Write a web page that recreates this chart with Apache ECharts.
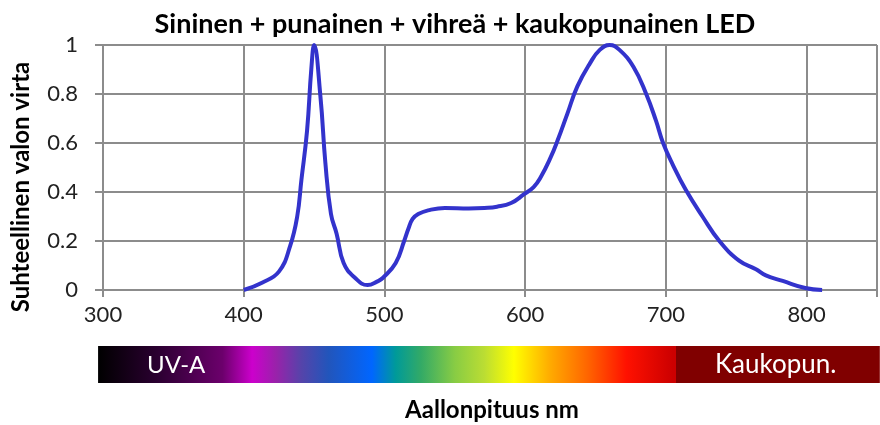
<!DOCTYPE html>
<html>
<head>
<meta charset="utf-8">
<script src="https://cdn.jsdelivr.net/npm/echarts@6/dist/echarts.min.js"></script>
<style>
  html, body { margin: 0; padding: 0; background: #ffffff; }
  #chart { width: 880px; height: 425px; }
</style>
</head>
<body>
<div id="chart"></div>
<script>
// Relative luminous flux of a blue + red + green + far-red LED, per wavelength (nm)
const wavelengths = [400, 413, 425, 433, 438, 441, 445, 448, 450, 454.5, 458, 462, 466, 471, 479, 488,
  495, 499, 508, 514, 517, 520, 524, 531, 543, 560, 571, 580, 590, 599, 606, 611, 618, 623, 630,
  637, 646, 653, 660, 667, 677, 686, 693, 698, 705, 714, 726, 738, 752, 764, 771, 783, 799, 811];
const flux = [0, 0.03, 0.075, 0.18, 0.30, 0.45, 0.65, 0.90, 1.0, 0.79, 0.52, 0.31, 0.23, 0.11, 0.05, 0.02,
  0.035, 0.05, 0.11, 0.20, 0.25, 0.29, 0.31, 0.325, 0.335, 0.333, 0.335, 0.34, 0.355, 0.39, 0.42, 0.46,
  0.54, 0.61, 0.72, 0.83, 0.925, 0.98, 1.0, 0.98, 0.91, 0.80, 0.69, 0.60, 0.51, 0.41, 0.30, 0.20, 0.12,
  0.085, 0.06, 0.037, 0.008, 0];

// Colour band under the axis: wavelength -> colour
const bandStops = [296.5, 338, 385, 406, 423, 441, 460, 491, 508, 526, 550, 571, 592, 618, 644, 672, 705, 707, 707.5, 852];
const bandColors = ['#000000', '#2a0030', '#6c006c', '#cc00cc', '#9922aa', '#5544aa', '#2255bb', '#0066ff',
  '#009a99', '#33aa66', '#88cc44', '#bbdd33', '#ffff00', '#ffaa00', '#ff6600', '#ff1100', '#cc0000',
  '#cc0000', '#800000', '#800000'];
const bandLabels = [{ text: 'UV-A', wl: 352, size: 24 }, { text: 'Kaukopun.', wl: 778, size: 26 }];

const chartTitle = 'Sininen + punainen + vihreä + kaukopunainen LED';
const yTitle = 'Suhteellinen valon virta';
const xTitle = 'Aallonpituus nm';

const FONT = 'Lato';
const GRID_COLOR = '#8c8c8c';

const chart = echarts.init(document.getElementById('chart'), null, { renderer: 'canvas' });

chart.setOption({
  backgroundColor: '#ffffff',
  animation: false,
  title: {
    text: chartTitle,
    left: 450, top: 6, textAlign: 'center',
    textStyle: { fontFamily: FONT, fontWeight: 'bold', fontSize: 27, color: '#000' }
  },
  grid: { left: 103, top: 45, width: 779, height: 245 },
  xAxis: {
    type: 'value', min: 300, max: 850, interval: 100,
    axisLine: { lineStyle: { color: GRID_COLOR, width: 2 } },
    axisTick: { show: true, length: 7, lineStyle: { color: GRID_COLOR, width: 2 } },
    splitLine: { show: true, lineStyle: { color: GRID_COLOR, width: 2 } },
    axisLabel: {
      margin: 14, fontFamily: FONT, fontSize: 22, color: '#222',
      formatter: v => (v % 100 === 0 ? String(v) : '')
    }
  },
  yAxis: {
    type: 'value', min: 0, max: 1, interval: 0.2,
    axisLine: { show: true, lineStyle: { color: GRID_COLOR, width: 2 } },
    axisTick: { show: true, length: 8, lineStyle: { color: GRID_COLOR, width: 2 } },
    splitLine: { show: true, lineStyle: { color: GRID_COLOR, width: 2 } },
    axisLabel: {
      margin: 25, fontFamily: FONT, fontSize: 22, color: '#222',
      formatter: v => String(Math.round(v * 10) / 10)
    }
  },
  series: [{
    type: 'line',
    data: wavelengths.map((w, i) => [w, flux[i]]),
    smooth: 0.45,
    showSymbol: false,
    clip: false,
    lineStyle: { color: '#3333cc', width: 4 }
  }]
});

// Colour band and axis titles, placed through the x-axis scale
function px(wl) { return chart.convertToPixel({ xAxisIndex: 0 }, wl); }
const x0 = px(bandStops[0]);
const x1 = px(bandStops[bandStops.length - 1]);
const bandW = x1 - x0;

chart.setOption({
  graphic: [
    {
      type: 'rect',
      shape: { x: x0, y: 346, width: bandW, height: 37 },
      style: {
        fill: new echarts.graphic.LinearGradient(0, 0, 1, 0,
          bandStops.map((w, i) => ({ offset: Math.max(0, Math.min(1, (px(w) - x0) / bandW)), color: bandColors[i] })))
      },
      silent: true
    },
    ...bandLabels.map(l => ({
      type: 'text',
      x: px(l.wl), y: 365,
      style: {
        text: l.text, fill: '#ffffff', font: l.size + 'px ' + FONT,
        textAlign: 'center', textVerticalAlign: 'middle'
      },
      silent: true
    })),
    {
      type: 'text',
      x: 492, y: 410,
      style: {
        text: xTitle, fill: '#000', font: 'bold 24px ' + FONT,
        textAlign: 'center', textVerticalAlign: 'middle'
      },
      silent: true
    },
    {
      type: 'text',
      x: 21, y: 187, rotation: Math.PI / 2,
      style: {
        text: yTitle, fill: '#000', font: 'bold 24px ' + FONT,
        textAlign: 'center', textVerticalAlign: 'middle'
      },
      silent: true
    }
  ]
});
</script>
</body>
</html>
